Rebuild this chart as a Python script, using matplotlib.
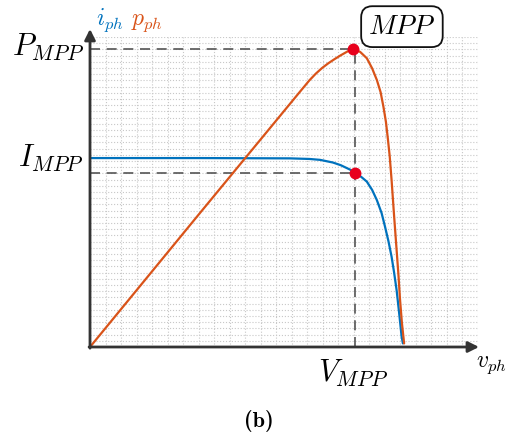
import numpy as np
import matplotlib
matplotlib.use('Agg')
import matplotlib.pyplot as plt

plt.rcParams['mathtext.fontset'] = 'cm'
plt.rcParams['font.family'] = 'DejaVu Serif'

# photovoltaic curves, voltage normalised to Voc, values normalised to Pmpp scale
v_curr = [0.0, 0.351, 0.638, 0.700, 0.734, 0.775, 0.800, 0.830, 0.845, 0.865,
          0.883, 0.900, 0.915, 0.930, 0.941, 0.952, 0.962, 0.970, 0.978, 0.986,
          0.994, 0.998]
i_ph = [0.634, 0.634, 0.633, 0.631, 0.628, 0.619, 0.610, 0.595, 0.585, 0.571,
        0.555, 0.527, 0.493, 0.450, 0.404, 0.355, 0.303, 0.250, 0.191, 0.115,
        0.035, 0.012]

v_pow = [0.0, 0.351, 0.670, 0.700, 0.720, 0.740, 0.760, 0.780, 0.800, 0.820,
         0.840, 0.862, 0.883, 0.900, 0.915, 0.927, 0.936, 0.944, 0.950, 0.956,
         0.962, 0.970, 0.978, 0.984, 0.989, 0.995, 1.002]
p_ph = [0.0, 0.450, 0.857, 0.895, 0.917, 0.936, 0.952, 0.966, 0.979, 0.991,
        1.0, 0.990, 0.969, 0.935, 0.896, 0.855, 0.806, 0.755, 0.700, 0.640,
        0.560, 0.440, 0.326, 0.240, 0.158, 0.080, 0.012]

v_mpp = 0.845
p_mpp = 1.0
i_mpp = 0.585
i_sc = 0.634

blue = '#0072BD'
orange = '#D95319'
axis_col = '#333333'

fig = plt.figure(figsize=(5.09, 4.42), dpi=100)
W, H = 509, 442
ax = fig.add_axes([90 / W, 1 - 347 / H, 388 / W, 310 / H])
xmax = 388 / 313.5
ymax = 310 / 298
ax.set_xlim(0, xmax)
ax.set_ylim(0, ymax)

# dotted background grid
ax.set_xticks(np.linspace(0, xmax, 26))
ax.set_yticks(np.linspace(0, ymax, 51))
ax.grid(True, color='#c8c8c8', linestyle=':', linewidth=0.8)
ax.tick_params(length=0, labelbottom=False, labelleft=False)
for s in ax.spines.values():
    s.set_visible(False)

# dashed guides
dash = dict(color='#555555', lw=1.2, dashes=(6, 4))
ax.plot([0, v_mpp - 0.01], [p_mpp, p_mpp], **dash)
ax.plot([0, v_mpp], [i_mpp, i_mpp], **dash)
ax.plot([v_mpp, v_mpp], [0, p_mpp], **dash)

ax.plot(v_curr, i_ph, color=blue, lw=1.6, solid_capstyle='round',
        solid_joinstyle='round')
ax.plot(v_pow, p_ph, color=orange, lw=1.6, solid_capstyle='round',
        solid_joinstyle='round')

ax.plot([v_mpp - 0.005, v_mpp], [p_mpp, i_mpp], 'o', color='#e8001c',
        markersize=7.5, zorder=5, clip_on=False)

# axes with arrows
arrow = dict(arrowstyle='-|>', color=axis_col, lw=2, mutation_scale=16,
             shrinkA=0, shrinkB=0)
ax.annotate('', xy=(389 / 313.5, 0), xytext=(-0.003, 0), arrowprops=arrow,
            annotation_clip=False)
ax.annotate('', xy=(0, 318 / 298), xytext=(0, -0.004), arrowprops=arrow,
            annotation_clip=False)

fs = 22
ax.text(-0.02, p_mpp + 0.005, r'$P_{MPP}$', ha='right', va='center', fontsize=fs)
ax.text(-0.02, i_sc, r'$I_{MPP}$', ha='right', va='center', fontsize=fs)
ax.text(v_mpp - 0.005, -0.035, r'$V_{MPP}$', ha='center', va='top', fontsize=fs)
ax.text(xmax - 0.005, -0.02, r'$v_{ph}$', ha='left', va='top', fontsize=17)
ax.text(0.02, 1.082, r'$i_{ph}$', ha='left', va='baseline', fontsize=17,
        color=blue)
ax.text(0.13, 1.082, r'$p_{ph}$', ha='left', va='baseline', fontsize=17,
        color=orange)
ax.text(0.995, 1.075, r'$MPP$', ha='center', va='center', fontsize=20,
        bbox=dict(boxstyle='round,pad=0.25,rounding_size=0.4', fc='white',
                  ec='#111111', lw=1.3))

fig.text(259 / W, 1 - 421 / H, '(b)', ha='center', va='center',
         fontsize=16, family='cmb10')

fig.savefig('out.png', dpi=100)
